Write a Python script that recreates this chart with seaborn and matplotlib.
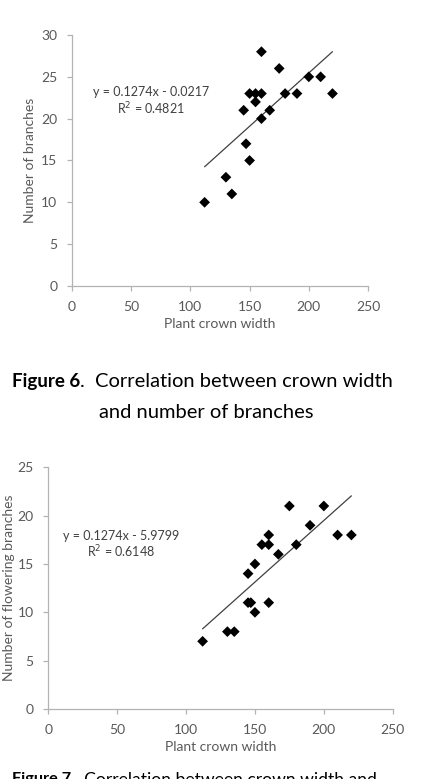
import matplotlib
matplotlib.use("Agg")
import numpy as np
import pandas as pd
import matplotlib.pyplot as plt
import seaborn as sns

# crown width is shared by both figures
crown_width = [112, 130, 135, 145, 147, 150, 150, 155, 155, 160, 160, 160,
               167, 175, 180, 190, 200, 210, 220]
branches = [10, 13, 11, 21, 17, 23, 15, 23, 22, 28, 23, 20,
            21, 26, 23, 23, 25, 25, 23]

crown_width_fl = [112, 130, 135, 145, 145, 147, 150, 150, 155, 160, 160, 160,
                  167, 175, 180, 190, 200, 210, 220]
flowering = [7, 8, 8, 14, 11, 11, 15, 10, 17, 18, 17, 11,
             16, 21, 17, 19, 21, 18, 18]

# Excel trendline coefficients (slope, intercept, R2)
fit1 = (0.1274, -0.0217, 0.4821)
fit2 = (0.1274, -5.9799, 0.6148)

sns.set_style("white")
plt.rcParams['font.family'] = ['Lato', 'DejaVu Sans']

GRAY = '#595959'
SPINE = '#b3b3b3'

fig = plt.figure(figsize=(4.29, 7.79), dpi=100)
ax1 = fig.add_axes([0.1678, 0.6329, 0.690, 0.3222])
ax2 = fig.add_axes([0.1126, 0.0899, 0.8028, 0.3102])


def draw(ax, x, y, fit, ylim, ylabel, eq_xy, eq_text, ylabelpad):
    df = pd.DataFrame({'x': x, 'y': y})
    sns.scatterplot(data=df, x='x', y='y', ax=ax, marker='D', s=30,
                    color='black', edgecolor='none', zorder=3)
    xs = np.array([min(x), max(x)])
    line = pd.DataFrame({'x': xs, 'y': fit[0] * xs + fit[1]})
    sns.lineplot(data=line, x='x', y='y', ax=ax, color='#404040', lw=0.9)
    ax.set_xlim(0, 250)
    ax.set_ylim(*ylim)
    ax.set_xticks(range(0, 251, 50))
    ax.set_yticks(range(0, ylim[1] + 1, 5))
    ax.set_xlabel('Plant crown width', color=GRAY, fontsize=10, labelpad=4)
    ax.set_ylabel(ylabel, color=GRAY, fontsize=10, labelpad=ylabelpad)
    for s in ['top', 'right']:
        ax.spines[s].set_visible(False)
    for s in ['left', 'bottom']:
        ax.spines[s].set_color(SPINE)
        ax.spines[s].set_linewidth(0.9)
    ax.tick_params(axis='both', which='major', direction='out', length=3.5,
                   width=0.9, color=SPINE, labelcolor=GRAY, labelsize=10,
                   left=True, bottom=True, pad=7)
    ax.text(eq_xy[0], eq_xy[1], eq_text, ha='center', va='center',
            fontsize=9, color='#404040')
    ax.text(eq_xy[0], eq_xy[1] - (ylim[1] - ylim[0]) * 0.067,
            'R$^2$ = %.4f' % fit[2], ha='center', va='center',
            fontsize=9, color='#404040')


draw(ax1, crown_width, branches, fit1, (0, 30), 'Number of branches',
     (67, 23.2), 'y = 0.1274x - 0.0217', 4)
draw(ax2, crown_width_fl, flowering, fit2, (0, 25),
     'Number of flowering branches', (52.6, 17.9), 'y = 0.1274x - 5.9799', 1.5)

# captions: bold "Figure N" followed by regular text
renderer = fig.canvas.get_renderer()


def caption(x_px, y_px, num, rest, va, size):
    y = 1 - y_px / 779
    b = fig.text(x_px / 429, y, 'Figure %d' % num, fontsize=size * 0.93,
                 fontweight='bold', ha='left', va=va, color='black')
    bb = b.get_window_extent(renderer)
    fig.text(bb.x1 / fig.bbox.width, y, rest, fontsize=size,
             ha='left', va=va, color='black')


caption(12, 382, 6, '.  Correlation between crown width', 'center', 14.5)
fig.text(206 / 429, 1 - 413 / 779, 'and number of branches', fontsize=14.5,
         ha='center', va='center', color='black')
caption(12, 772, 7, '.  Correlation between crown width and', 'top', 12.6)

fig.savefig('out.png', dpi=100)
